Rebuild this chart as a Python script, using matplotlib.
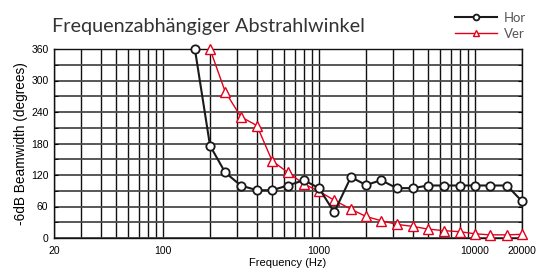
import matplotlib
matplotlib.use("Agg")
import matplotlib.pyplot as plt
from matplotlib.ticker import LogLocator, FixedLocator, NullFormatter, MultipleLocator

freqs = [160, 200, 250, 315, 400, 500, 630, 800, 1000, 1250, 1600, 2000,
         2500, 3150, 4000, 5000, 6300, 8000, 10000, 12500, 16000, 20000]
hor = [360, 176, 125, 100, 91, 91, 100, 110, 95, 49, 116, 101,
       110, 95, 95, 100, 100, 100, 100, 100, 100, 70]
ver_freqs = freqs[1:]
ver = [360, 279, 231, 214, 147, 125, 103, 89, 72, 55, 41,
       33, 26, 22, 17, 14, 12, 8, 6, 6, 7]
xticks = [20, 100, 1000, 10000, 20000]
yticks = [0, 60, 120, 180, 240, 300, 360]

fig = plt.figure(figsize=(5.43, 2.71), dpi=100)
ax = fig.add_axes([54/543, 1-238/271, (522-54)/543, (238-49)/271])

ax.set_xscale('log')
ax.set_xlim(20, 20000)
ax.set_ylim(0, 360)

ax.xaxis.set_major_locator(FixedLocator(xticks))
ax.xaxis.set_minor_locator(LogLocator(base=10, subs=range(1, 10), numticks=20))
ax.xaxis.set_minor_formatter(NullFormatter())
ax.set_xticklabels([str(v) for v in xticks])
ax.yaxis.set_major_locator(FixedLocator(yticks))
ax.yaxis.set_minor_locator(MultipleLocator(30))
ax.grid(True, which='both', axis='x', color='#111111', lw=1.0)
ax.grid(True, which='both', axis='y', color='#4a4a4a', lw=1.3)
ax.set_axisbelow(True)

ax.tick_params(axis='x', which='both', length=0, labelsize=7.5, pad=6)
ax.tick_params(axis='y', which='both', direction='in', length=3, right=True,
               labelsize=7.5, pad=4)
for lab in ax.get_xticklabels() + ax.get_yticklabels():
    lab.set_fontfamily('Liberation Sans')
for s in ax.spines.values():
    s.set_color('#111111')
    s.set_linewidth(1.0)

l1, = ax.plot(freqs, hor, color='#1a1a1a', lw=1.5, marker='o', ms=6,
              mfc='white', mec='#1a1a1a', mew=1.3, label='Hor', clip_on=False, zorder=4)
l2, = ax.plot(ver_freqs, ver, color='#e3001b', lw=1.0, marker='^', ms=6.5,
              mfc='white', mec='#e3001b', mew=1.0, label='Ver', clip_on=False, zorder=3)

ax.set_xlabel('Frequency (Hz)', fontsize=8, family='Liberation Sans', labelpad=1)
ax.set_ylabel('-6dB Beamwidth (degrees)', fontsize=9.8, family='Liberation Sans', labelpad=2)

fig.text(52/543, 1-32/271, 'Frequenzabhängiger Abstrahlwinkel', fontsize=14.3,
         family='Lato', color='#333333', va='baseline', ha='left')

leg = fig.legend(handles=[l1, l2], loc='upper left', bbox_to_anchor=(455/543, 1-12/271),
                 frameon=False, handlelength=3.2, markerscale=0.7,
                 labelspacing=0.3, handletextpad=0.5, borderaxespad=0, borderpad=0,
                 prop={'family': 'Lato', 'size': 9.5})
for t in leg.get_texts():
    t.set_color('#555555')

fig.savefig('out.png', dpi=100)
